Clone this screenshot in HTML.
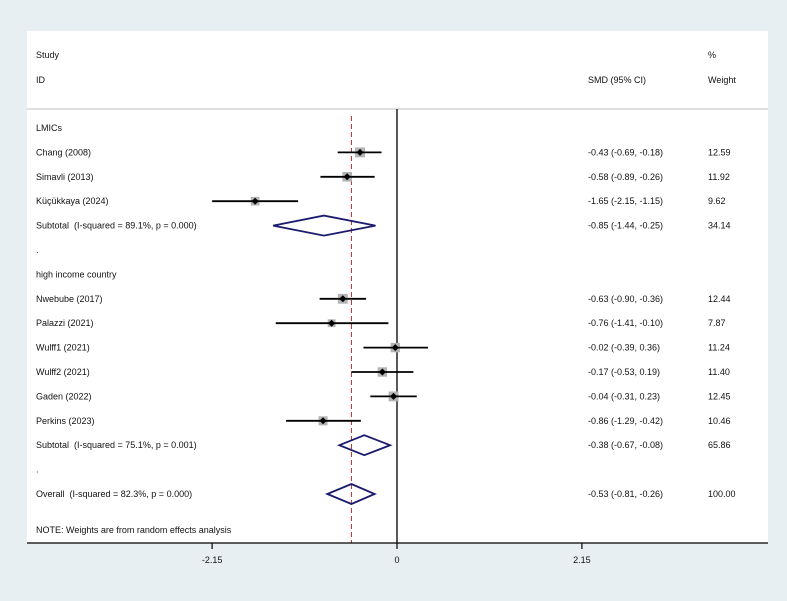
<!DOCTYPE html>
<html><head><meta charset="utf-8"><style>
body{margin:0;background:#e8eff2;}
svg{display:block;font-family:"Liberation Sans",Arial,sans-serif;}
text{white-space:pre;}
</style></head><body>
<svg width="787" height="601" viewBox="0 0 787 601">
<rect x="0" y="0" width="787" height="601" fill="#e8eff2"/>
<rect x="27" y="31" width="741" height="512" fill="#fff"/>
<line x1="27" y1="109" x2="768" y2="109" stroke="#ccc" stroke-width="1.2"/>
<g font-size="9" fill="#111">
<text x="36" y="58">Study</text>
<text x="36" y="83">ID</text>
<text x="588" y="83">SMD (95% CI)</text>
<text x="708" y="58">%</text>
<text x="708" y="83">Weight</text>
</g>
<g id="rows" font-size="9" fill="#111"></g>
<g id="marks"></g>
<g id="axis"></g>
</svg>
<script>
const labels=["LMICs","Chang (2008)","Simavli (2013)","Küçükkaya (2024)","Subtotal  (I-squared = 89.1%, p = 0.000)",".","high income country","Nwebube (2017)","Palazzi (2021)","Wulff1 (2021)","Wulff2 (2021)","Gaden (2022)","Perkins (2023)","Subtotal  (I-squared = 75.1%, p = 0.001)",".","Overall  (I-squared = 82.3%, p = 0.000)"];
const kinds=["h","s","s","s","d","b","h","s","s","s","s","s","s","d","b","d"];
const est=[null,-0.43,-0.58,-1.65,-0.85,null,null,-0.63,-0.76,-0.02,-0.17,-0.04,-0.86,-0.38,null,-0.53];
const lo=[null,-0.69,-0.89,-2.15,-1.44,null,null,-0.90,-1.41,-0.39,-0.53,-0.31,-1.29,-0.67,null,-0.81];
const hi=[null,-0.18,-0.26,-1.15,-0.25,null,null,-0.36,-0.10,0.36,0.19,0.23,-0.42,-0.08,null,-0.26];
const weights=[null,"12.59","11.92","9.62","34.14",null,null,"12.44","7.87","11.24","11.40","12.45","10.46","65.86",null,"100.00"];
const ticks=[-2.15,0,2.15];
const tickLabels=["-2.15","0","2.15"];
const overall=-0.53;
const NS="http://www.w3.org/2000/svg";
const X=v=>397+v*86;
const Y=i=>128+i*24.4;
function mk(t,a,p){const e=document.createElementNS(NS,t);for(const k in a)e.setAttribute(k,a[k]);p.appendChild(e);return e;}
const rows=document.getElementById('rows'),marks=document.getElementById('marks'),axis=document.getElementById('axis');
const fmt=v=>v.toFixed(2);
let ln=mk('line',{x1:X(0),y1:109,x2:X(0),y2:543,stroke:'#000','stroke-width':1.3},marks);


let dl=mk('line',{x1:X(overall),y1:116,x2:X(overall),y2:543,stroke:'#b03030','stroke-width':1,'stroke-dasharray':'5,3'},marks);


labels.forEach((l,i)=>{
  const y=Y(i);
  const t=mk('text',{x:36,y:y+3},rows);t.textContent=l;
  
  
  if(est[i]!==null){
    const c=mk('text',{x:588,y:y+3},rows);c.textContent=fmt(est[i])+" ("+fmt(lo[i])+", "+fmt(hi[i])+")";
    
    
    const w=mk('text',{x:708,y:y+3},rows);w.textContent=weights[i];
    
    
  }
  if(kinds[i]==="s"){
    const s=2.8*Math.sqrt(parseFloat(weights[i]));
    const sq=mk('rect',{x:X(est[i])-s/2,y:y-s/2,width:s,height:s,fill:'#b4b4b4'},marks);
    
    
    const ci=mk('line',{x1:X(lo[i]),y1:y,x2:X(hi[i]),y2:y,stroke:'#000','stroke-width':1.8},marks);
    
    
    const pt=mk('path',{d:`M${X(est[i])-3.5},${y} L${X(est[i])},${y-3.5} L${X(est[i])+3.5},${y} L${X(est[i])},${y+3.5}Z`,fill:'#000'},marks);
    
    
  } else if(kinds[i]==="d"){
    const d=mk('path',{d:`M${X(lo[i])},${y} L${X(est[i])},${y-10} L${X(hi[i])},${y} L${X(est[i])},${y+10}Z`,fill:'none',stroke:'#1a1a6e','stroke-width':1.8},marks);
    
    
  }
});
const nt=mk('text',{x:36,y:533,'font-size':9,fill:'#111'},rows);nt.textContent="NOTE: Weights are from random effects analysis";


const ax=mk('line',{x1:27,y1:543,x2:768,y2:543,stroke:'#000','stroke-width':1.3},axis);


ticks.forEach((v,i)=>{
  const tk=mk('line',{x1:X(v),y1:543,x2:X(v),y2:549,stroke:'#000','stroke-width':1.2},axis);
  
  
  const tl=mk('text',{x:X(v),y:563,'font-size':9,'text-anchor':'middle',fill:'#111'},axis);tl.textContent=tickLabels[i];
  
  
});
</script>
</body></html>
